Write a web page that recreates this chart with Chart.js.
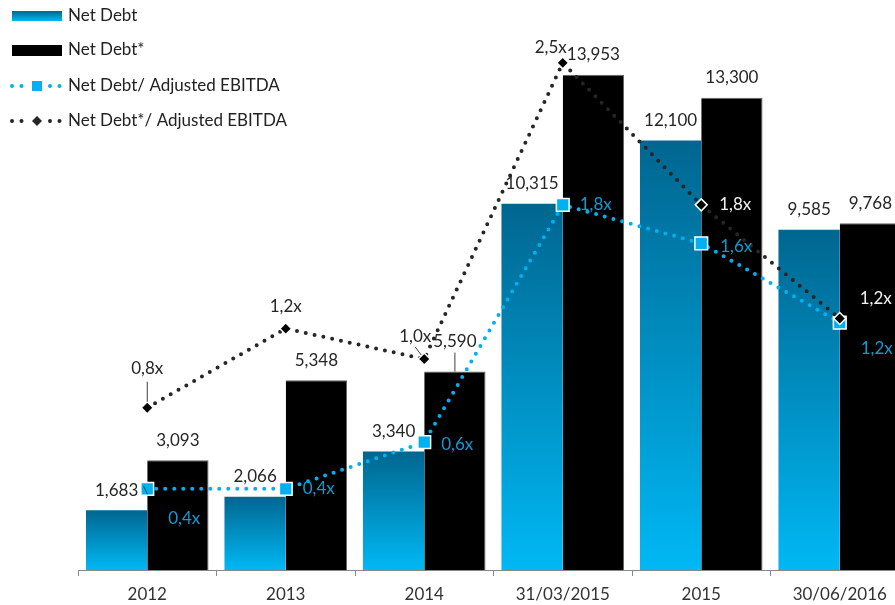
<!DOCTYPE html>
<html>
<head>
<meta charset="utf-8">
<script src="https://cdn.jsdelivr.net/npm/chart.js@4.4.1/dist/chart.umd.min.js"></script>
<style>
html, body { margin: 0; padding: 0; overflow: hidden; background: #fff; }
#wrap { position: absolute; left: 0; top: 0; width: 912px; height: 605px; }
</style>
</head>
<body>
<div id="wrap"><canvas id="debtChart" width="912" height="605"></canvas></div>
<script>
// Data
const categories = ['2012', '2013', '2014', '31/03/2015', '2015', '30/06/2016'];
const netDebt = [1683, 2066, 3340, 10315, 12100, 9585];
const netDebtStar = [3093, 5348, 5590, 13953, 13300, 9768];
const ratioNetDebt = [0.40, 0.40, 0.63, 1.80, 1.61, 1.22];
const ratioNetDebtStar = [0.80, 1.19, 1.04, 2.50, 1.80, 1.24];

const FONT = 'Lato';
const blueTop = 'rgb(0,102,144)';
const blueBottom = 'rgb(0,184,244)';
const lineBlue = '#00b0f0';
const lineDark = '#262626';

const fmtNum = v => v.toLocaleString('en-US');
const fmtRatio = v => v.toFixed(1).replace('.', ',') + 'x';

// vertical gradient per bar, from the bar's own top down to the baseline
function barGradient(ctx) {
    const chart = ctx.chart;
    if (!chart.chartArea || ctx.type !== 'data') return blueBottom;
    const y = chart.scales.y;
    const top = y.getPixelForValue(ctx.raw);
    const bottom = y.getPixelForValue(0);
    const g = chart.ctx.createLinearGradient(0, top, 0, bottom);
    g.addColorStop(0, blueTop);
    g.addColorStop(1, blueBottom);
    return g;
}

// value labels drawn next to bars and points
const pointLabels = {
    id: 'pointLabels',
    afterDatasetsDraw(chart, args, opts) {
        const c = chart.ctx;
        c.save();
        c.font = '17px ' + FONT;
        c.textBaseline = 'middle';
        chart.data.datasets.forEach((ds, di) => {
            const meta = chart.getDatasetMeta(di);
            const place = opts.place[di];
            meta.data.forEach((el, i) => {
                const p = place[i];
                const text = ds.type === 'line' ? fmtRatio(ds.data[i]) : fmtNum(ds.data[i]);
                if (p.leader) {
                    c.strokeStyle = '#404040';
                    c.lineWidth = 1;
                    c.beginPath();
                    c.moveTo(el.x + p.leader[0], el.y + p.leader[1]);
                    c.lineTo(el.x + p.leader[2], el.y + p.leader[3]);
                    c.stroke();
                }
                c.fillStyle = p.color || opts.colors[di];
                c.textAlign = p.align || 'center';
                c.fillText(text, el.x + p.dx, el.y + p.dy);
            });
        });
        c.restore();
    }
};

// legend stacked in the top-left corner
const cornerLegend = {
    id: 'cornerLegend',
    afterDraw(chart) {
        const c = chart.ctx;
        c.save();
        const g = c.createLinearGradient(0, 11, 0, 21);
        g.addColorStop(0, blueTop);
        g.addColorStop(1, blueBottom);
        c.fillStyle = g;
        c.fillRect(12, 11, 50, 10);
        c.fillStyle = '#000';
        c.fillRect(12, 45, 50, 11);

        [[86, lineBlue], [121, lineDark]].forEach(([y, col], k) => {
            c.strokeStyle = col;
            c.lineWidth = 4;
            c.lineCap = 'round';
            c.setLineDash([0, 9.5]);
            c.beginPath();
            c.moveTo(12, y);
            c.lineTo(60, y);
            c.stroke();
            c.setLineDash([]);
            c.fillStyle = '#fff';
            c.fillRect(28, y - 7, 18, 14);
            c.fillStyle = col;
            if (k === 0) {
                c.fillRect(32, y - 5, 10, 10);
            } else {
                c.beginPath();
                c.moveTo(37, y - 5); c.lineTo(42, y); c.lineTo(37, y + 5); c.lineTo(32, y);
                c.closePath();
                c.fill();
            }
        });

        c.fillStyle = '#222';
        c.font = '17px ' + FONT;
        c.textBaseline = 'middle';
        c.textAlign = 'left';
        c.fillText('Net Debt', 68, 16);
        c.fillText('Net Debt*', 68, 50);
        c.fillText('Net Debt/ Adjusted EBITDA', 68, 86);
        c.fillText('Net Debt*/ Adjusted EBITDA', 68, 121);
        c.restore();
    }
};

const ctx = document.getElementById('debtChart').getContext('2d');
const debtChart = new Chart(ctx, {
    data: {
        labels: categories,
        datasets: [
            {
                type: 'bar',
                label: 'Net Debt',
                data: netDebt,
                backgroundColor: barGradient,
                yAxisID: 'y',
                order: 2
            },
            {
                type: 'bar',
                label: 'Net Debt*',
                data: netDebtStar,
                backgroundColor: '#000',
                borderColor: '#666',
                borderWidth: { top: 1, left: 0, right: 1, bottom: 0 },
                yAxisID: 'y',
                order: 2
            },
            {
                type: 'line',
                label: 'Net Debt/ Adjusted EBITDA',
                data: ratioNetDebt,
                yAxisID: 'y2',
                borderColor: lineBlue,
                borderWidth: 4,
                borderDash: [0, 9],
                borderCapStyle: 'round',
                tension: 0,
                pointStyle: 'rect',
                pointRadius: 9,
                pointBackgroundColor: lineBlue,
                pointBorderColor: '#fff',
                pointBorderWidth: 1.5,
                order: 1
            },
            {
                type: 'line',
                label: 'Net Debt*/ Adjusted EBITDA',
                data: ratioNetDebtStar,
                yAxisID: 'y2',
                borderColor: lineDark,
                borderWidth: 4,
                borderDash: [0, 9],
                borderCapStyle: 'round',
                tension: 0,
                pointStyle: 'rectRot',
                pointRadius: 6,
                pointBackgroundColor: '#000',
                pointBorderColor: '#fff',
                pointBorderWidth: 1.5,
                order: 0
            }
        ]
    },
    options: {
        responsive: false,
        animation: false,
        layout: { autoPadding: false, padding: { top: 2, right: 3, left: 0, bottom: 0 } },
        datasets: {
            bar: { categoryPercentage: 0.885, barPercentage: 1.0 }
        },
        scales: {
            x: {
                offset: true,
                grid: { offset: true, drawOnChartArea: false, drawTicks: true, tickLength: 6, color: '#888' },
                border: { color: '#888' },
                ticks: { color: '#333', padding: 8, font: { family: FONT, size: 17 } },
                afterFit(scale) { scale.height = 35; }
            },
            y: {
                display: false,
                min: 0,
                max: 16000
            },
            y2: {
                position: 'left',
                min: 0,
                max: 2.8,
                grid: { display: false },
                border: { display: false },
                ticks: { display: false },
                afterFit(scale) { scale.width = 78; }
            }
        },
        plugins: {
            legend: { display: false },
            tooltip: { enabled: false },
            pointLabels: {
                colors: ['#262626', '#262626', '#1199d6', '#262626'],
                place: [
                    [
                        { dx: 0, dy: -20, leader: [27, -24, 31, -16] },
                        { dx: 0, dy: -20 }, { dx: 0, dy: -20 },
                        { dx: 0, dy: -20 }, { dx: 0, dy: -20 }, { dx: 0, dy: -20 }
                    ],
                    [
                        { dx: 0, dy: -20 }, { dx: 0, dy: -20 },
                        { dx: 0, dy: -30, leader: [0, -19, 0, 0] },
                        { dx: 0, dy: -20 }, { dx: 0, dy: -20 }, { dx: 0, dy: -20 }
                    ],
                    [
                        { dx: 21, dy: 30, align: 'left' },
                        { dx: 17, dy: 0, align: 'left' },
                        { dx: 17, dy: 2, align: 'left' },
                        { dx: 17, dy: 0, align: 'left' },
                        { dx: 19, dy: 3, align: 'left' },
                        { dx: 21, dy: 26, align: 'left' }
                    ],
                    [
                        { dx: 0, dy: -39, leader: [0, -26, 0, -6] },
                        { dx: 0, dy: -22 },
                        { dx: -9, dy: -23, leader: [-9, -12, -3, -4] },
                        { dx: -12, dy: -15 },
                        { dx: 18, dy: 0, align: 'left', color: '#f2f2f2' },
                        { dx: 20, dy: -20, align: 'left', color: '#f2f2f2' }
                    ]
                ]
            }
        }
    },
    plugins: [pointLabels, cornerLegend]
});
</script>
</body>
</html>
